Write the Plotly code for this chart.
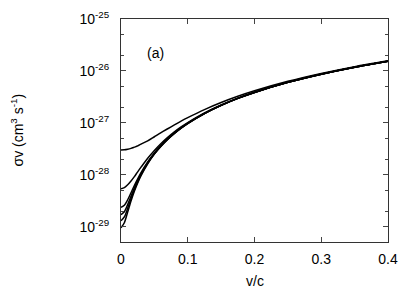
import plotly.graph_objects as go

v = [0, 0.005, 0.01, 0.015, 0.02, 0.025, 0.03, 0.04, 0.05, 0.06, 0.07, 0.08, 0.09, 0.1,
     0.125, 0.15, 0.175, 0.2, 0.25, 0.3, 0.35, 0.4]

sv_a = [3.0e-28, 3.02e-28, 3.1e-28, 3.22e-28, 3.4e-28, 3.6e-28, 3.9e-28, 4.5e-28, 5.4e-28,
        6.5e-28, 7.7e-28, 9.1e-28, 1.08e-27, 1.26e-27, 1.8e-27, 2.46e-27, 3.24e-27, 4.14e-27,
        6.3e-27, 8.94e-27, 1.21e-26, 1.57e-26]
sv_b = [5.4e-29, 5.64e-29, 6.4e-29, 7.56e-29, 9.2e-29, 1.14e-28, 1.4e-28, 2.08e-28, 2.94e-28,
        4.0e-28, 5.24e-28, 6.68e-28, 8.32e-28, 1.01e-27, 1.55e-27, 2.21e-27, 2.99e-27, 3.89e-27,
        6.05e-27, 8.69e-27, 1.18e-26, 1.54e-26]
sv_c = [2.35e-29, 2.59e-29, 3.3e-29, 4.51e-29, 6.2e-29, 8.35e-29, 1.1e-28, 1.77e-28, 2.64e-28,
        3.7e-28, 4.94e-28, 6.38e-28, 8.0e-28, 9.84e-28, 1.52e-27, 2.18e-27, 2.96e-27, 3.86e-27,
        6.02e-27, 8.66e-27, 1.18e-26, 1.54e-26]
sv_d = [1.7e-29, 1.94e-29, 2.66e-29, 3.86e-29, 5.54e-29, 7.7e-29, 1.03e-28, 1.71e-28, 2.57e-28,
        3.63e-28, 4.87e-28, 6.31e-28, 7.95e-28, 9.77e-28, 1.51e-27, 2.17e-27, 2.96e-27, 3.85e-27,
        6.01e-27, 8.65e-27, 1.18e-26, 1.54e-26]
sv_e = [1.3e-29, 1.54e-29, 2.26e-29, 3.46e-29, 5.14e-29, 7.3e-29, 9.94e-29, 1.67e-28, 2.53e-28,
        3.59e-28, 4.83e-28, 6.27e-28, 7.9e-28, 9.73e-28, 1.51e-27, 2.17e-27, 2.96e-27, 3.85e-27,
        6.01e-27, 8.65e-27, 1.18e-26, 1.54e-26]
sv_f = [9.5e-30, 1.19e-29, 1.91e-29, 3.11e-29, 4.79e-29, 6.95e-29, 9.59e-29, 1.63e-28, 2.5e-28,
        3.55e-28, 4.8e-28, 6.24e-28, 7.87e-28, 9.7e-28, 1.51e-27, 2.17e-27, 2.96e-27, 3.85e-27,
        6.01e-27, 8.65e-27, 1.18e-26, 1.54e-26]

series = [sv_a, sv_b, sv_c, sv_d, sv_e, sv_f]

y_tickvals = [1e-29, 1e-28, 1e-27, 1e-26, 1e-25]
y_ticktext = ["10<sup>-29</sup>", "10<sup>-28</sup>", "10<sup>-27</sup>", "10<sup>-26</sup>", "10<sup>-25</sup>"]
x_tickvals = [0, 0.1, 0.2, 0.3, 0.4]
x_ticktext = ["0", "0.1", "0.2", "0.3", "0.4"]
y_minor = [m * 10.0 ** e for e in range(-30, -25) for m in (2, 5)]

FONT = "Liberation Sans, Arial, Helvetica, sans-serif"

# page body has an 8px default margin; figure is sized so the plot lands where the reference has it
W, H = 407, 283
ML, MR, MT, MB = 113, 27, 11, 49
PW, PH = W - ML - MR, H - MT - MB

fig = go.Figure()
for s in series:
    fig.add_trace(go.Scatter(x=v, y=s, mode="lines",
                             line=dict(color="black", width=1.5, shape="spline", smoothing=0.8),
                             showlegend=False, hoverinfo="skip"))

fig.add_annotation(x=0.052, y=-25.655, xref="x", yref="y", text="(a)",
                   showarrow=False, font=dict(size=14, color="black", family=FONT))
# axis titles
fig.add_annotation(x=-(ML - 9) / PW, y=0.5, xref="paper", yref="paper",
                   text="σv (cm<sup>3</sup> s<sup>-1</sup>)", textangle=-90,
                   showarrow=False, xanchor="center", yanchor="middle",
                   font=dict(size=14, color="black", family=FONT))
fig.add_annotation(x=0.5, y=-(281 - (MT + PH + 8)) / PH, xref="paper", yref="paper",
                   text="v/c", showarrow=False, xanchor="center", yanchor="middle",
                   font=dict(size=14, color="black", family=FONT))

fig.update_layout(
    width=W, height=H,
    margin=dict(l=ML, r=MR, t=MT, b=MB),
    paper_bgcolor="white", plot_bgcolor="white",
    font=dict(family=FONT, size=14, color="black"),
    showlegend=False,
)
fig.update_xaxes(
    range=[0, 0.4], tickvals=x_tickvals, ticktext=x_ticktext, automargin=False,
    ticks="inside", ticklen=5, tickcolor="#444", tickwidth=1,
    showline=True, linecolor="#333", linewidth=1, mirror="ticks",
    showgrid=False, zeroline=False,
    ticklabelstandoff=4, tickfont=dict(size=14),
)
fig.update_yaxes(
    type="log", range=[-29.295, -25], tickvals=y_tickvals, ticktext=y_ticktext, automargin=False,
    ticks="inside", ticklen=5, tickcolor="#444", tickwidth=1,
    showline=True, linecolor="#333", linewidth=1, mirror="ticks",
    showgrid=False, zeroline=False,
    minor=dict(tickvals=y_minor, ticks="inside", ticklen=3, tickcolor="#444", showgrid=False),
    ticklabelstandoff=8, tickfont=dict(size=14),
)

fig.write_html("out.html")
